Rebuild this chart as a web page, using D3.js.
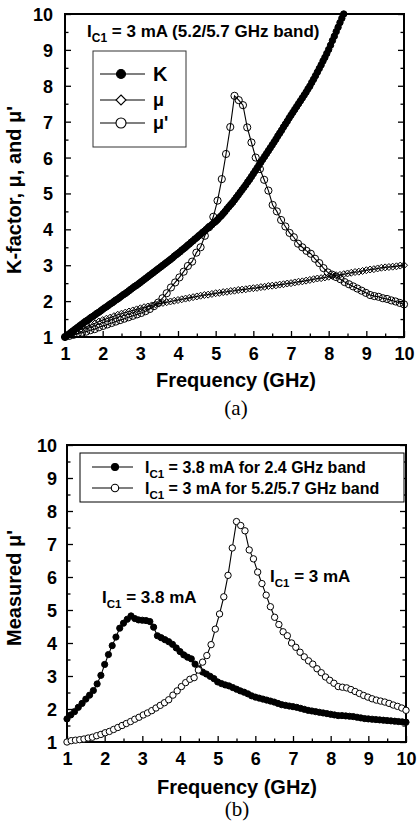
<!DOCTYPE html>
<html><head><meta charset="utf-8">
<script src="https://cdn.jsdelivr.net/npm/d3@7"></script>
<style>
html,body{margin:0;padding:0;background:#fff;}
svg{display:block;}
</style></head><body>
<svg id="chart" width="419" height="833"></svg>
<script>
// ---------------- DATA ----------------
const xTicks = [1,2,3,4,5,6,7,8,9,10];
const yTicks = [1,2,3,4,5,6,7,8,9,10];
const minorTicks = [1.5,2.5,3.5,4.5,5.5,6.5,7.5,8.5,9.5];

// (a) sweep grids (GHz): start 1 GHz, uniform steps
const kStep = 0.05, muStep = 0.1, muPStep = 0.1125;
const kFactor = [1.00,1.04,1.08,1.12,1.16,1.20,1.24,1.28,1.32,1.36,
1.40,1.44,1.47,1.51,1.55,1.58,1.62,1.66,1.69,1.73,
1.77,1.81,1.84,1.88,1.92,1.95,1.99,2.03,2.06,2.10,
2.14,2.18,2.21,2.25,2.29,2.33,2.37,2.41,2.44,2.48,
2.52,2.56,2.60,2.64,2.68,2.72,2.76,2.80,2.84,2.88,
2.92,2.96,3.00,3.04,3.08,3.12,3.16,3.20,3.25,3.29,
3.33,3.37,3.42,3.46,3.50,3.55,3.59,3.64,3.68,3.73,
3.77,3.82,3.86,3.91,3.95,4.00,4.04,4.09,4.13,4.18,
4.22,4.27,4.33,4.38,4.44,4.50,4.57,4.63,4.69,4.75,
4.82,4.89,4.96,5.03,5.10,5.17,5.24,5.32,5.39,5.47,
5.55,5.63,5.71,5.79,5.87,5.95,6.03,6.11,6.19,6.27,
6.35,6.43,6.51,6.60,6.68,6.76,6.85,6.93,7.01,7.10,
7.18,7.26,7.34,7.42,7.50,7.58,7.66,7.74,7.82,7.91,
7.99,8.09,8.18,8.28,8.38,8.48,8.58,8.69,8.79,8.90,
9.01,9.13,9.26,9.38,9.51,9.63,9.76,9.88,10.00];
const mu = [1.00,1.06,1.11,1.16,1.21,1.25,1.30,1.34,1.38,1.43,
1.47,1.51,1.54,1.58,1.62,1.65,1.68,1.71,1.74,1.77,
1.80,1.83,1.85,1.88,1.91,1.93,1.95,1.97,1.99,2.01,
2.03,2.05,2.07,2.09,2.11,2.13,2.15,2.17,2.18,2.20,
2.22,2.23,2.25,2.26,2.28,2.29,2.31,2.32,2.33,2.35,
2.36,2.37,2.39,2.40,2.42,2.43,2.44,2.46,2.47,2.49,
2.50,2.52,2.54,2.55,2.57,2.59,2.61,2.63,2.64,2.66,
2.68,2.70,2.72,2.73,2.75,2.77,2.79,2.81,2.82,2.84,
2.86,2.88,2.89,2.91,2.93,2.94,2.95,2.96,2.97,2.99,
3.00];
const muPrimeA = [1.00,1.03,1.06,1.09,1.12,1.15,1.19,1.22,1.27,1.31,
1.35,1.39,1.43,1.47,1.51,1.55,1.59,1.63,1.67,1.72,
1.78,1.86,1.96,2.08,2.22,2.38,2.52,2.66,2.82,2.98,
3.10,3.35,3.50,3.82,4.06,4.35,4.80,5.40,6.10,6.85,
7.72,7.60,7.46,6.84,6.42,6.00,5.68,5.38,5.08,4.68,
4.50,4.26,4.08,3.90,3.78,3.60,3.50,3.40,3.32,3.18,
3.06,2.92,2.80,2.74,2.67,2.61,2.53,2.47,2.41,2.35,
2.29,2.23,2.17,2.14,2.12,2.08,2.06,2.02,1.99,1.95,
1.91];

// (b)
const ic38Step = 0.1, ic3Step = 0.1125;
const ic38mA = [1.70,1.82,1.92,2.05,2.17,2.30,2.42,2.56,2.76,3.02,
3.35,3.65,3.92,4.18,4.45,4.60,4.72,4.82,4.74,4.70,
4.69,4.68,4.65,4.48,4.22,4.16,4.10,4.04,3.96,3.85,
3.74,3.64,3.57,3.52,3.36,3.22,3.12,3.06,2.99,2.92,
2.82,2.77,2.73,2.70,2.65,2.60,2.55,2.51,2.46,2.40,
2.36,2.33,2.30,2.27,2.24,2.21,2.17,2.13,2.11,2.09,
2.07,2.05,2.02,1.99,1.96,1.94,1.92,1.90,1.88,1.86,
1.84,1.82,1.80,1.80,1.79,1.78,1.77,1.75,1.73,1.71,
1.70,1.69,1.68,1.67,1.66,1.65,1.64,1.63,1.62,1.61,
1.60];
const ic3mA = [1.00,1.04,1.055,1.07,1.09,1.12,1.145,1.19,1.23,1.28,
1.32,1.38,1.44,1.50,1.56,1.62,1.69,1.75,1.82,1.88,
1.95,2.03,2.11,2.19,2.28,2.42,2.55,2.68,2.80,2.90,
2.95,3.18,3.42,3.62,3.95,4.42,4.88,5.40,6.05,6.88,
7.68,7.56,7.40,6.82,6.55,6.15,5.80,5.45,5.10,4.78,
4.56,4.34,4.22,4.00,3.87,3.72,3.58,3.46,3.36,3.22,
3.10,2.97,2.87,2.78,2.68,2.66,2.64,2.59,2.53,2.47,
2.41,2.36,2.31,2.27,2.24,2.21,2.17,2.12,2.08,2.03,
1.96];

// ---------------- DRAW ----------------
const svg = d3.select("#chart");
const SANS = "'Liberation Sans', Arial, Helvetica, sans-serif";
const SERIF = "'Liberation Serif', 'Times New Roman', serif";
const pts = (step, vals) => vals.map((v,i) => [1 + i*step, v]);

function panel(box, yPad) {
  const x = d3.scaleLinear().domain([1,10]).range([box.l, box.r]);
  const y = d3.scaleLinear().domain([1,10]).range([box.b, box.t]);
  const g = svg.append("g");
  const ax = g.append("g");
  function styleAxis(sel){ sel.select(".domain").remove(); sel.selectAll("line").attr("stroke","#000").attr("stroke-width",1.3); }
  ax.append("g").attr("transform",`translate(0,${box.b})`)
    .call(d3.axisBottom(x).tickValues(minorTicks).tickSize(-3.5).tickSizeOuter(0).tickFormat("")).call(styleAxis);
  const xb = ax.append("g").attr("transform",`translate(0,${box.b})`)
    .call(d3.axisBottom(x).tickValues(xTicks).tickSize(-6).tickSizeOuter(0)).call(styleAxis);
  xb.selectAll("text").attr("y",23).attr("dy",null)
    .attr("font-family",SANS).attr("font-weight","bold").attr("font-size",18).attr("fill","#000");
  ax.append("g").attr("transform",`translate(${box.l},0)`)
    .call(d3.axisLeft(y).tickValues(minorTicks).tickSize(-3.5).tickSizeOuter(0).tickFormat("")).call(styleAxis);
  const yl = ax.append("g").attr("transform",`translate(${box.l},0)`)
    .call(d3.axisLeft(y).tickValues(yTicks).tickSize(-6).tickSizeOuter(0)).call(styleAxis);
  yl.selectAll("text").attr("x",-yPad).attr("dy","0.36em")
    .attr("font-family",SANS).attr("font-weight","bold").attr("font-size",18).attr("fill","#000");
  ax.append("g").attr("transform",`translate(${box.r},0)`)
    .call(d3.axisRight(y).tickValues(minorTicks).tickSize(-3.5).tickSizeOuter(0).tickFormat("")).call(styleAxis);
  ax.append("g").attr("transform",`translate(${box.r},0)`)
    .call(d3.axisRight(y).tickValues(yTicks).tickSize(-6).tickSizeOuter(0).tickFormat("")).call(styleAxis);
  g.append("rect").attr("x",box.l).attr("y",box.t).attr("width",box.r-box.l).attr("height",box.b-box.t)
    .attr("fill","none").attr("stroke","#000").attr("stroke-width",2);
  return {x,y,g};
}

function series(p, data, marker, r, fill) {
  const line = d3.line().x(d=>p.x(d[0])).y(d=>p.y(d[1]));
  p.g.append("path").datum(data).attr("d",line).attr("fill","none").attr("stroke","#000").attr("stroke-width",1.1);
  const mg = p.g.append("g");
  if (marker === "circle") {
    mg.selectAll("circle").data(data).join("circle")
      .attr("cx",d=>p.x(d[0])).attr("cy",d=>p.y(d[1])).attr("r",r)
      .attr("fill",fill).attr("stroke","#000").attr("stroke-width",1);
  } else {
    mg.selectAll("path").data(data).join("path")
      .attr("d",`M0,${-r}L${r},0L0,${r}L${-r},0Z`)
      .attr("transform",d=>`translate(${p.x(d[0])},${p.y(d[1])})`)
      .attr("fill",fill).attr("stroke","#000").attr("stroke-width",1);
  }
}

function legendItem(g, x0, x1, xm, y, marker, r, fill) {
  g.append("line").attr("x1",x0).attr("x2",x1).attr("y1",y).attr("y2",y).attr("stroke","#000").attr("stroke-width",1.2);
  if (marker === "circle") g.append("circle").attr("cx",xm).attr("cy",y).attr("r",r).attr("fill",fill).attr("stroke","#000").attr("stroke-width",1.1);
  else g.append("path").attr("d",`M0,${-r}L${r},0L0,${r}L${-r},0Z`).attr("transform",`translate(${xm},${y})`).attr("fill",fill).attr("stroke","#000").attr("stroke-width",1.1);
}

function subText(g, x, y, size, subSize, pre, sub, post, anchor) {
  const t = g.append("text").attr("x",x).attr("y",y).attr("font-family",SANS).attr("font-weight","bold")
    .attr("font-size",size).attr("fill","#000");
  if (anchor) t.attr("text-anchor",anchor);
  t.append("tspan").text(pre);
  t.append("tspan").attr("dy",5).attr("font-size",subSize).text(sub);
  t.append("tspan").attr("dy",-5).text(post);
  return t;
}

// ---- Panel (a)
const A = panel({l:65, r:404, t:14, b:337}, 12);
series(A, pts(kStep, kFactor), "circle", 3.2, "#000");
series(A, pts(muStep, mu), "diamond", 3.5, "none");
series(A, pts(muPStep, muPrimeA), "circle", 3.6, "none");

subText(svg, 87, 37, 17, 12, "I", "C1", " = 3 mA (5.2/5.7 GHz band)");

const legA = svg.append("g");
legA.append("rect").attr("x",93).attr("y",51).attr("width",93).attr("height",96)
  .attr("fill","#fff").attr("stroke","#333").attr("stroke-width",1);
legendItem(legA, 100, 145, 121, 74, "circle", 4.5, "#000");
legendItem(legA, 100, 145, 121, 100, "diamond", 5, "#fff");
legendItem(legA, 100, 145, 121, 123, "circle", 5, "#fff");
[["K",74,20],["\u03bc",100,18],["\u03bc'",123,18]].forEach(([t,y,s]) => {
  legA.append("text").attr("x",153).attr("y",y).attr("dy","0.36em").attr("font-family",SANS)
    .attr("font-weight","bold").attr("font-size",s).attr("fill","#000").text(t);
});

svg.append("text").attr("transform","translate(21,190) rotate(-90)").attr("text-anchor","middle")
  .attr("font-family",SANS).attr("font-weight","bold").attr("font-size",20).attr("fill","#000")
  .text("K-factor, \u03bc, and \u03bc'");
svg.append("text").attr("x",236).attr("y",387).attr("text-anchor","middle")
  .attr("font-family",SANS).attr("font-weight","bold").attr("font-size",20).attr("fill","#000")
  .text("Frequency (GHz)");
svg.append("text").attr("x",236).attr("y",415).attr("text-anchor","middle")
  .attr("font-family",SERIF).attr("font-size",21).attr("fill","#000").text("(a)");

// ---- Panel (b)
const B = panel({l:67, r:406, t:445, b:742}, 10);
series(B, pts(ic38Step, ic38mA), "circle", 3.1, "#000");
series(B, pts(ic3Step, ic3mA), "circle", 3.2, "#fff");

const legB = svg.append("g");
legB.append("rect").attr("x",80).attr("y",453).attr("width",324).attr("height",49)
  .attr("fill","#fff").attr("stroke","#000").attr("stroke-width",1);
legendItem(legB, 92, 133, 115, 467, "circle", 3.5, "#000");
legendItem(legB, 92, 133, 115, 488, "circle", 3.7, "#fff");
subText(legB, 145, 473, 16, 11.5, "I", "C1", " = 3.8 mA for 2.4 GHz band");
subText(legB, 145, 494, 16, 11.5, "I", "C1", " = 3 mA for 5.2/5.7 GHz band");

subText(svg, 102, 603, 17, 11.5, "I", "C1", " = 3.8 mA");
subText(svg, 270, 582, 17, 11.5, "I", "C1", " = 3 mA");

svg.append("text").attr("transform","translate(21,588) rotate(-90)").attr("text-anchor","middle")
  .attr("font-family",SANS).attr("font-weight","bold").attr("font-size",20).attr("fill","#000")
  .text("Measured \u03bc'");
svg.append("text").attr("x",237).attr("y",794).attr("text-anchor","middle")
  .attr("font-family",SANS).attr("font-weight","bold").attr("font-size",20).attr("fill","#000")
  .text("Frequency (GHz)");
svg.append("text").attr("x",237).attr("y",816).attr("text-anchor","middle")
  .attr("font-family",SERIF).attr("font-size",21).attr("fill","#000").text("(b)");
</script>
</body></html>
